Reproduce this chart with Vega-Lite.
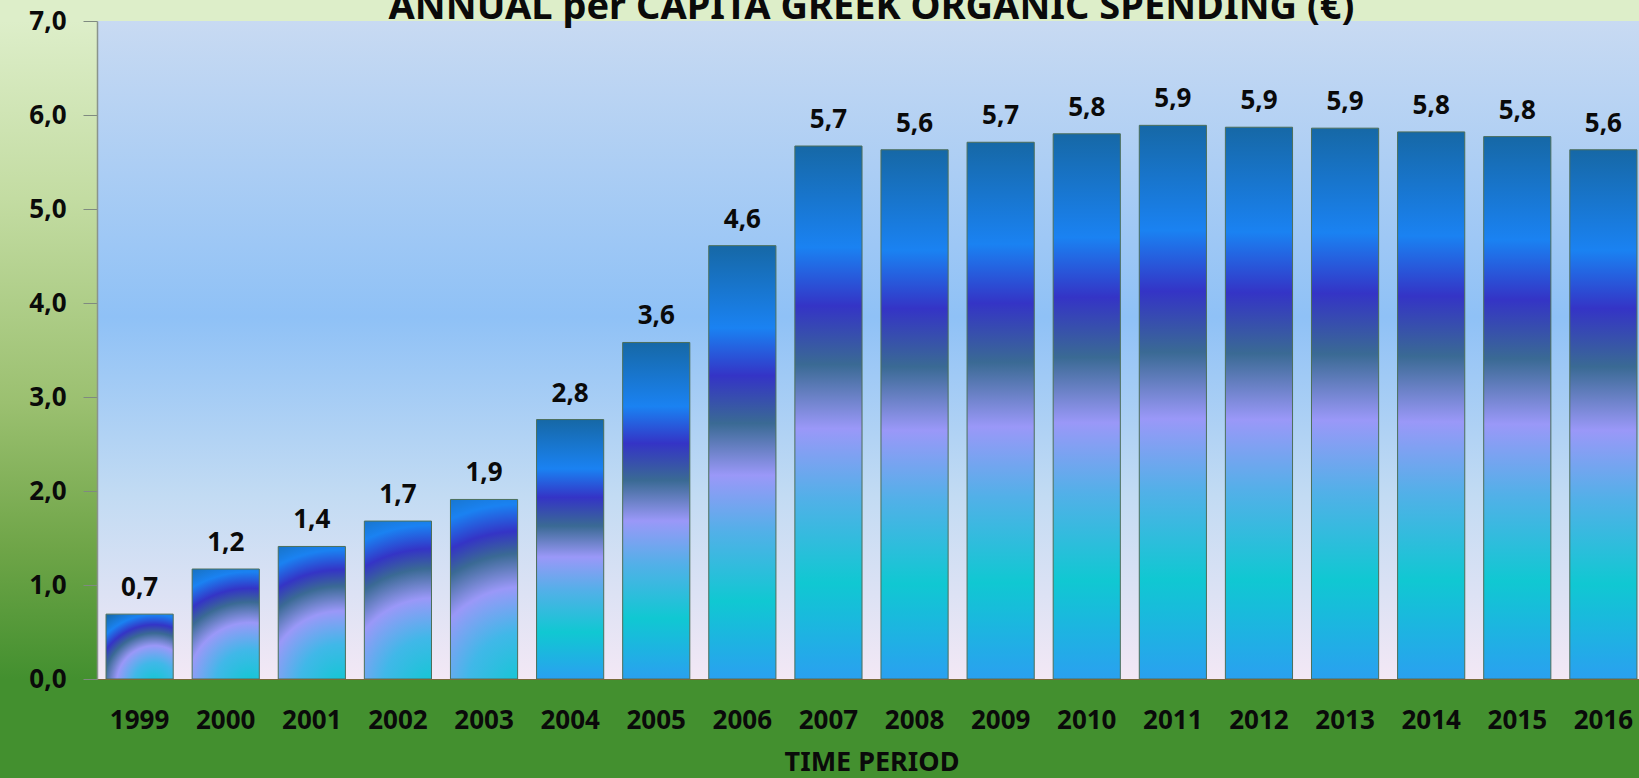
{
  "$schema": "https://vega.github.io/schema/vega-lite/v6.json",
  "width": 1549,
  "height": 658,
  "autosize": {"type": "none"},
  "padding": {"left": 97, "top": 21, "right": -7, "bottom": 99},
  "background": "#3f8a2d",
  "title": {
    "text": "ANNUAL per CAPITA GREEK ORGANIC SPENDING (€)",
    "font": "Noto Sans",
    "fontSize": 38,
    "fontWeight": "bold",
    "color": "#0a0a0a",
    "anchor": "middle",
    "baseline": "alphabetic",
    "offset": -49
  },
  "config": {
    "locale": {"number": {"decimal": ",", "thousands": ".", "grouping": [3], "currency": ["", " €"]}},
    "view": {
      "stroke": {
        "gradient": "linear", "x1": 0, "y1": 0, "x2": 0, "y2": 1,
        "stops": [
          {"offset": 0, "color": "#ddeec9"},
          {"offset": 0.27, "color": "#c3dca2"},
          {"offset": 0.58, "color": "#9bc070"},
          {"offset": 0.8, "color": "#6fa548"},
          {"offset": 1, "color": "#43902f"}
        ]
      },
      "strokeWidth": 240
    },
    "font": "Noto Sans"
  },
  "data": {
    "values": [
      {"year": "1999", "value": 0.69},
      {"year": "2000", "value": 1.17},
      {"year": "2001", "value": 1.41},
      {"year": "2002", "value": 1.68},
      {"year": "2003", "value": 1.91},
      {"year": "2004", "value": 2.76},
      {"year": "2005", "value": 3.58},
      {"year": "2006", "value": 4.61},
      {"year": "2007", "value": 5.67},
      {"year": "2008", "value": 5.63},
      {"year": "2009", "value": 5.71},
      {"year": "2010", "value": 5.8},
      {"year": "2011", "value": 5.89},
      {"year": "2012", "value": 5.87},
      {"year": "2013", "value": 5.86},
      {"year": "2014", "value": 5.82},
      {"year": "2015", "value": 5.77},
      {"year": "2016", "value": 5.63}
    ]
  },
  "encoding": {
    "x": {
      "field": "year",
      "type": "ordinal",
      "scale": {"paddingInner": 0.22, "paddingOuter": 0.105},
      "axis": {
        "title": "TIME PERIOD",
        "titleFont": "Noto Sans",
        "titleFontSize": 27,
        "titleFontWeight": "bold",
        "titleColor": "#0a0a0a",
        "titleBaseline": "alphabetic",
        "titleY": 91,
        "labelAngle": 0,
        "labelFont": "Noto Sans",
        "labelFontSize": 26,
        "labelFontWeight": "bold",
        "labelColor": "#0a0a0a",
        "labelBaseline": "alphabetic",
        "labelPadding": 49,
        "ticks": false,
        "domainColor": "#7a6a3a",
        "domainWidth": 1,
        "zindex": 1
      }
    },
    "y": {
      "field": "value",
      "type": "quantitative",
      "scale": {"domain": [0, 7], "nice": false},
      "axis": {
        "title": null,
        "values": [0, 1, 2, 3, 4, 5, 6, 7],
        "format": ".1f",
        "grid": false,
        "labelFont": "Noto Sans",
        "labelFontSize": 26,
        "labelFontWeight": "bold",
        "labelColor": "#0a0a0a",
        "labelPadding": 17,
        "tickSize": 14,
        "tickColor": "#7f8a80",
        "domainColor": "#8a948c",
        "domainWidth": 1.5,
        "zindex": 1
      }
    }
  },
  "layer": [
    {
      "data": {"values": [{"bg": 1}]},
      "mark": {
        "type": "rect",
        "fill": {
          "gradient": "linear", "x1": 0, "y1": 0, "x2": 0, "y2": 1,
          "stops": [
            {"offset": 0, "color": "#c8daf2"},
            {"offset": 0.45, "color": "#8fc1f6"},
            {"offset": 0.72, "color": "#c2dbf3"},
            {"offset": 1, "color": "#f3e8f5"}
          ]
        }
      },
      "encoding": {"x": null, "y": null}
    },
    {
      "mark": {
        "type": "bar",
        "stroke": "#4d6f5a",
        "strokeWidth": 1
      },
      "encoding": {
        "fill": {
          "condition": {
            "test": "datum.value < 2",
            "value": {
              "gradient": "radial", "x1": 0.72, "y1": 1.05, "r1": 0, "x2": 0.72, "y2": 1.05, "r2": 1.25,
              "stops": [
                {"offset": 0, "color": "#10c8d2"},
                {"offset": 0.25, "color": "#40b8e8"},
                {"offset": 0.45, "color": "#9a98f8"},
                {"offset": 0.6, "color": "#3a6a94"},
                {"offset": 0.7, "color": "#3434c6"},
                {"offset": 0.82, "color": "#1a82f2"},
                {"offset": 1, "color": "#1668a6"}
              ]
            }
          },
          "value": {
            "gradient": "linear", "x1": 0, "y1": 0, "x2": 0, "y2": 1,
            "stops": [
              {"offset": 0, "color": "#1668a6"},
              {"offset": 0.19, "color": "#1a82f2"},
              {"offset": 0.3, "color": "#3434c6"},
              {"offset": 0.41, "color": "#3a6a94"},
              {"offset": 0.53, "color": "#9a98f8"},
              {"offset": 0.66, "color": "#52b0e8"},
              {"offset": 0.82, "color": "#10c8d2"},
              {"offset": 1, "color": "#2aa0f0"}
            ]
          }
        }
      }
    },
    {
      "mark": {
        "type": "text",
        "font": "Noto Sans",
        "fontSize": 26,
        "fontWeight": "bold",
        "color": "#0a0a0a",
        "baseline": "alphabetic",
        "dy": -18
      },
      "encoding": {
        "text": {"field": "value", "type": "quantitative", "format": ".1f"}
      }
    }
  ]
}
